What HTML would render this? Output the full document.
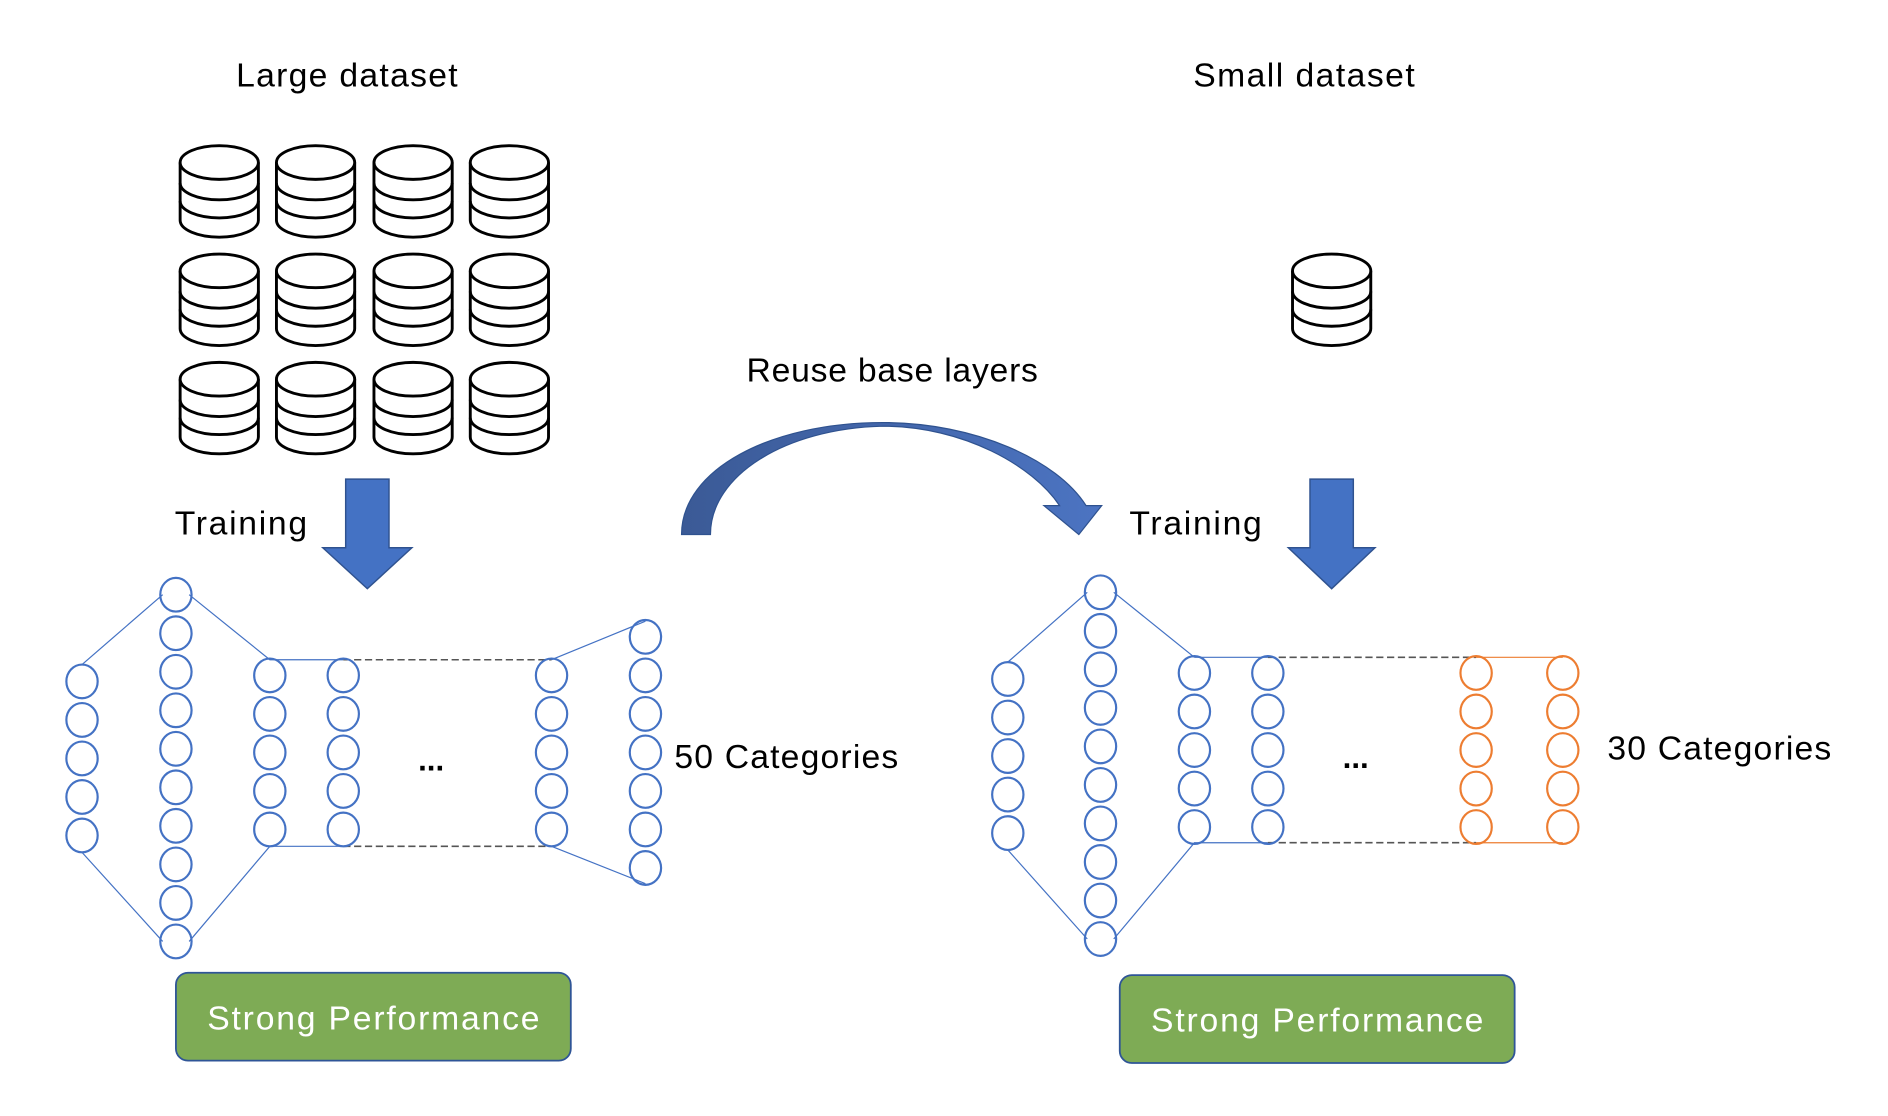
<!DOCTYPE html>
<html><head><meta charset="utf-8"><style>html,body{margin:0;padding:0;background:#fff}svg{display:block}</style></head>
<body>
<svg width="1888" height="1116" viewBox="0 0 1568 927" xmlns="http://www.w3.org/2000/svg" font-family="'Liberation Sans', sans-serif">
<defs>
<g id="db" fill="#fff" stroke="#000" stroke-width="2.4">
<path d="M-32.5,135 L-32.5,183 A32.5,14 0 0 0 32.5,183 L32.5,135"/>
<ellipse cx="0" cy="135" rx="32.5" ry="14"/>
<path d="M-32.5,152 A32.5,14 0 0 0 32.5,152" fill="none"/>
<path d="M-32.5,167 A32.5,14 0 0 0 32.5,167" fill="none"/>
</g>
<ellipse id="cb" cx="0" cy="0" rx="13" ry="14" fill="none" stroke="#4472C4" stroke-width="1.8"/>
<ellipse id="co" cx="0" cy="0" rx="13" ry="14" fill="none" stroke="#ED7D31" stroke-width="1.8"/>
<linearGradient id="ag" x1="0" x2="1" y1="0" y2="0"><stop offset="0" stop-color="#3B5A96"/><stop offset="1" stop-color="#4C74C2"/></linearGradient>
</defs>

<text x="288" y="72" font-size="28" text-anchor="middle" textLength="184">Large dataset</text>
<text x="1083" y="72" font-size="28" text-anchor="middle" textLength="184">Small dataset</text>
<text x="741" y="317" font-size="28" text-anchor="middle" textLength="242">Reuse base layers</text>
<text x="145" y="444" font-size="28" textLength="110">Training</text>
<text x="938" y="444" font-size="28" textLength="110">Training</text>
<text x="560" y="638" font-size="28" textLength="186">50 Categories</text>
<text x="1335" y="631" font-size="28" textLength="186">30 Categories</text>

<!-- databases -->
<use href="#db" x="182" y="0"/><use href="#db" x="262" y="0"/><use href="#db" x="343" y="0"/><use href="#db" x="423" y="0"/>
<use href="#db" x="182" y="90"/><use href="#db" x="262" y="90"/><use href="#db" x="343" y="90"/><use href="#db" x="423" y="90"/>
<use href="#db" x="182" y="180"/><use href="#db" x="262" y="180"/><use href="#db" x="343" y="180"/><use href="#db" x="423" y="180"/>
<use href="#db" x="1106" y="90"/>

<!-- down arrows -->
<path d="M287,398 L323,398 L323,455 L342,455 L305,489 L268,455 L287,455 Z" fill="#4472C4" stroke="#2F528F" stroke-width="1.2"/>
<path d="M1088,398 L1124,398 L1124,455 L1142,455 L1106,489 L1070,455 L1088,455 Z" fill="#4472C4" stroke="#2F528F" stroke-width="1.2"/>

<!-- curved arrow -->
<path d="M566,444 C566,390 640,351 733,351 C810,351 878,382 902,420 L915,420 L896,444 L867,420 L880,420 C858,387 800,354 733,354 C652,356 590,395 590,444 Z" fill="url(#ag)" stroke="#2F528F" stroke-width="1"/>

<g stroke="#4472C4" stroke-width="1" fill="none">
<path d="M68,552 L135,494 M157,494 L224,548 L285,548 M68,708 L135,782 M157,782 L224,703 L285,703 M458,548 L536,516 M458,703 L536,734"/>
<path d="M992,546 L1053,546 M837,550 L903,492 M925,492 L992,546 M837,706 L903,780 M925,780 L992,700 L1053,700"/>
</g>
<g stroke="#ED7D31" stroke-width="1"><path d="M1226,546 L1298,546 M1226,700 L1298,700"/></g>
<g stroke="#555" stroke-width="1.3" stroke-dasharray="6,3"><path d="M285,548 L458,548 M285,703 L458,703 M1053,546 L1226,546 M1053,700 L1226,700"/></g>
<text x="358" y="640" font-size="26" font-weight="bold" text-anchor="middle">...</text>
<text x="1126" y="638" font-size="26" font-weight="bold" text-anchor="middle">...</text>

<g>
<use href="#cb" x="68" y="566"/><use href="#cb" x="68" y="598"/><use href="#cb" x="68" y="630"/><use href="#cb" x="68" y="662"/><use href="#cb" x="68" y="694"/>
<use href="#cb" x="146" y="494"/><use href="#cb" x="146" y="526"/><use href="#cb" x="146" y="558"/><use href="#cb" x="146" y="590"/><use href="#cb" x="146" y="622"/><use href="#cb" x="146" y="654"/><use href="#cb" x="146" y="686"/><use href="#cb" x="146" y="718"/><use href="#cb" x="146" y="750"/><use href="#cb" x="146" y="782"/>
<use href="#cb" x="224" y="561"/><use href="#cb" x="224" y="593"/><use href="#cb" x="224" y="625"/><use href="#cb" x="224" y="657"/><use href="#cb" x="224" y="689"/>
<use href="#cb" x="285" y="561"/><use href="#cb" x="285" y="593"/><use href="#cb" x="285" y="625"/><use href="#cb" x="285" y="657"/><use href="#cb" x="285" y="689"/>
<use href="#cb" x="458" y="561"/><use href="#cb" x="458" y="593"/><use href="#cb" x="458" y="625"/><use href="#cb" x="458" y="657"/><use href="#cb" x="458" y="689"/>
<use href="#cb" x="536" y="529"/><use href="#cb" x="536" y="561"/><use href="#cb" x="536" y="593"/><use href="#cb" x="536" y="625"/><use href="#cb" x="536" y="657"/><use href="#cb" x="536" y="689"/><use href="#cb" x="536" y="721"/>
</g>
<g>
<use href="#cb" x="837" y="564"/><use href="#cb" x="837" y="596"/><use href="#cb" x="837" y="628"/><use href="#cb" x="837" y="660"/><use href="#cb" x="837" y="692"/>
<use href="#cb" x="914" y="492"/><use href="#cb" x="914" y="524"/><use href="#cb" x="914" y="556"/><use href="#cb" x="914" y="588"/><use href="#cb" x="914" y="620"/><use href="#cb" x="914" y="652"/><use href="#cb" x="914" y="684"/><use href="#cb" x="914" y="716"/><use href="#cb" x="914" y="748"/><use href="#cb" x="914" y="780"/>
<use href="#cb" x="992" y="559"/><use href="#cb" x="992" y="591"/><use href="#cb" x="992" y="623"/><use href="#cb" x="992" y="655"/><use href="#cb" x="992" y="687"/>
<use href="#cb" x="1053" y="559"/><use href="#cb" x="1053" y="591"/><use href="#cb" x="1053" y="623"/><use href="#cb" x="1053" y="655"/><use href="#cb" x="1053" y="687"/>
<use href="#co" x="1226" y="559"/><use href="#co" x="1226" y="591"/><use href="#co" x="1226" y="623"/><use href="#co" x="1226" y="655"/><use href="#co" x="1226" y="687"/>
<use href="#co" x="1298" y="559"/><use href="#co" x="1298" y="591"/><use href="#co" x="1298" y="623"/><use href="#co" x="1298" y="655"/><use href="#co" x="1298" y="687"/>
</g>

<rect x="146" y="808" width="328" height="73" rx="10" fill="#7EAB55" stroke="#2F5597" stroke-width="1.5"/>
<text x="310" y="855" font-size="28" fill="#fff" text-anchor="middle" textLength="276">Strong Performance</text>
<rect x="930" y="810" width="328" height="73" rx="10" fill="#7EAB55" stroke="#2F5597" stroke-width="1.5"/>
<text x="1094" y="857" font-size="28" fill="#fff" text-anchor="middle" textLength="276">Strong Performance</text>
</svg>
</body></html>
